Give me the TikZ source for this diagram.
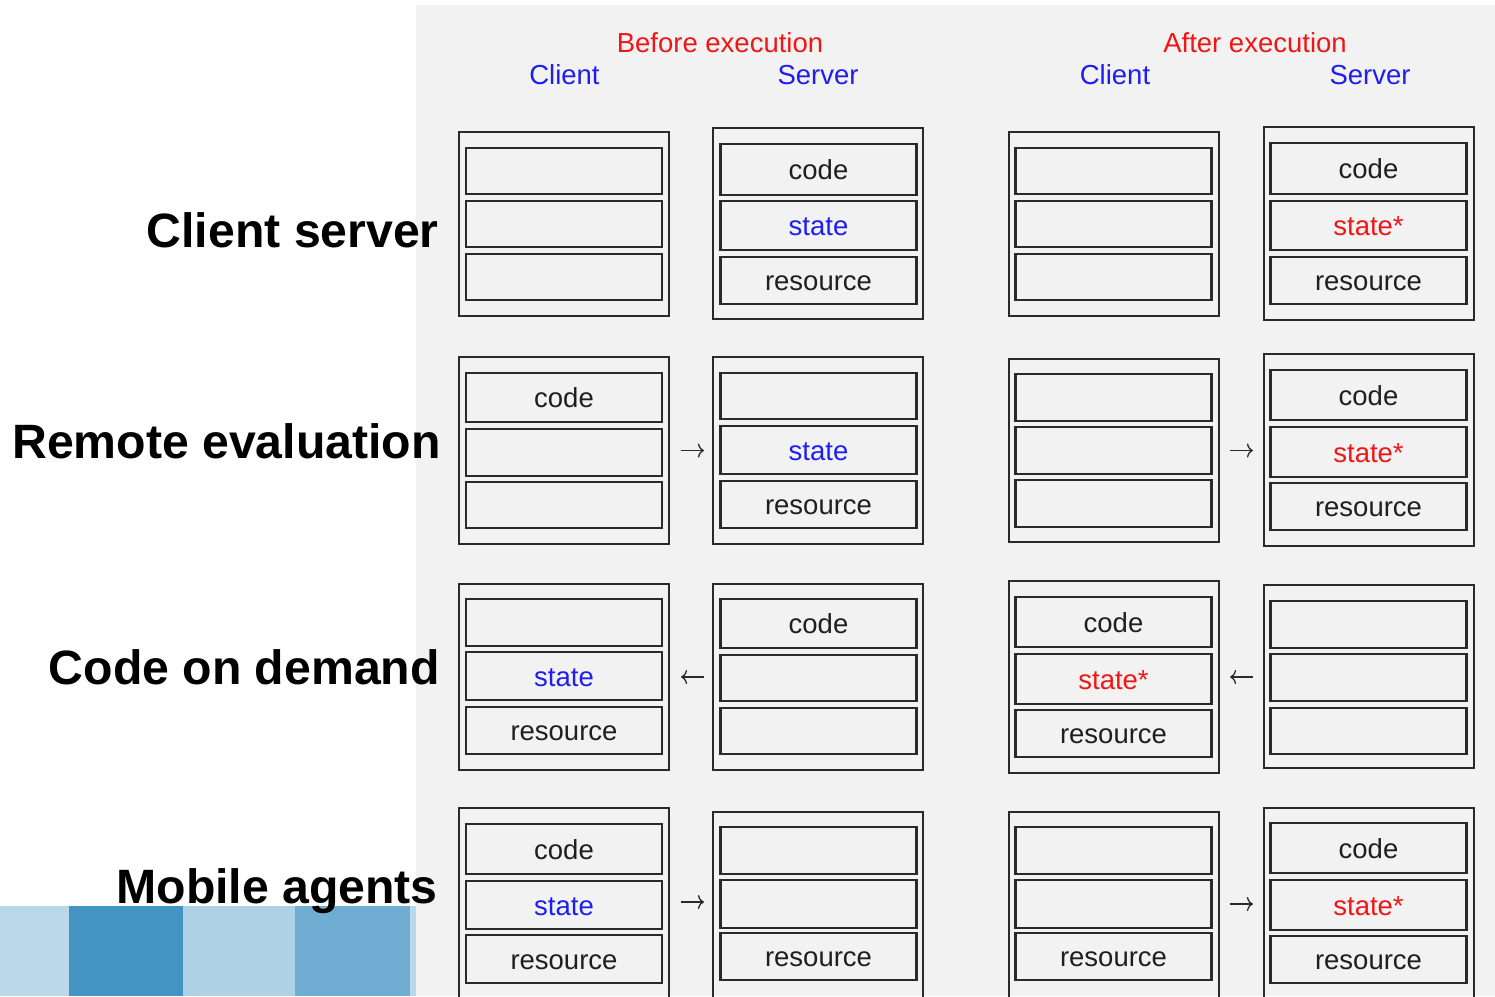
\documentclass[tikz,border=0pt]{standalone}
\usepackage{fontspec}
\setmainfont{Liberation Sans}
\usetikzlibrary{arrows.meta}
\definecolor{panel}{RGB}{242,242,242}
\definecolor{ink}{RGB}{42,42,42}
\definecolor{hred}{RGB}{240,22,22}
\definecolor{hblue}{RGB}{30,30,240}
\definecolor{tileA}{RGB}{186,216,234}
\definecolor{tileB}{RGB}{68,148,195}
\definecolor{tileC}{RGB}{173,209,229}
\definecolor{tileD}{RGB}{111,173,210}
\tikzset{
  frame/.style={draw=ink, line width=2.2pt, minimum width=210pt, inner sep=0pt},
  cell/.style={draw=ink, line width=2.8pt, minimum width=196pt, inner sep=0pt,
    text height=20pt, text depth=0pt, text=black!88,
    font=\fontsize{27.5}{30}\selectfont},
  fresh/.style={text=hblue},
  changed/.style={text=hred},
  hdr/.style={anchor=base, inner sep=0pt, font=\fontsize{27.5}{30}\selectfont},
  lbl/.style={anchor=base east, inner sep=0pt, font=\fontsize{48.2}{52}\selectfont\bfseries},
  arr/.style={draw=ink, line width=1.3pt, -{To[length=6pt,width=14pt]}},
}
\begin{document}
\begin{tikzpicture}[x=1pt,y=-1pt]
\useasboundingbox (0,0) rectangle (1495,996);
\clip (0,0) rectangle (1495,996);

% background panel and corner tiles
\fill[panel] (416,5) rectangle (1495,996);
\fill[tileA] (0,906) rectangle (69,996);
\fill[tileB] (69,906) rectangle (183,996);
\fill[tileC] (183,906) rectangle (295,996);
\fill[tileD] (295,906) rectangle (410,996);
\fill[tileA] (410,906) rectangle (416,996);

% column headings
\node[hdr, text=hred]  (hb) at (720,52) {Before execution};
\node[hdr, text=hblue] (hbc) at (564.5,84) {Client};
\node[hdr, text=hblue] (hbs) at (818,84) {Server};
\node[hdr, text=hred]  (ha) at (1255,52) {After execution};
\node[hdr, text=hblue] (hac) at (1115,84) {Client};
\node[hdr, text=hblue] (has) at (1370,84) {Server};

% row labels
\node[lbl] (l1) at (439,247) {Client server};
\node[lbl] (l2) at (441,458) {Remote evaluation};
\node[lbl] (l3) at (440,684) {Code on demand};
\node[lbl] (l4) at (438,903) {Mobile agents};

% ---- Client server
\node[frame, minimum height=184pt] (o11) at (564,224) {};
\node[cell, minimum height=46pt] (c111) at (564,171) {};
\node[cell, minimum height=46pt] (c112) at (564,224) {};
\node[cell, minimum height=46pt] (c113) at (564,277) {};
\node[frame, minimum height=191pt] (o12) at (818,223.5) {};
\node[cell, minimum height=51pt] (c121) at (818.5,169.5) {code};
\node[cell, fresh, minimum height=49pt] (c122) at (818.5,225.5) {state};
\node[cell, minimum height=47pt] (c123) at (818.5,280.5) {resource};
\node[frame, minimum height=184pt] (o13) at (1114,224) {};
\node[cell, minimum height=46pt] (c131) at (1113.5,171) {};
\node[cell, minimum height=46pt] (c132) at (1113.5,224) {};
\node[cell, minimum height=46pt] (c133) at (1113.5,277) {};
\node[frame, minimum height=193pt] (o14) at (1369,223.5) {};
\node[cell, minimum height=51pt] (c141) at (1368.5,168.5) {code};
\node[cell, changed, minimum height=49pt] (c142) at (1368.5,225.5) {state*};
\node[cell, minimum height=47pt] (c143) at (1368.5,280.5) {resource};

% ---- Remote evaluation
\node[frame, minimum height=187pt] (o21) at (564,450.5) {};
\node[cell, minimum height=49pt] (c211) at (564,397.5) {code};
\node[cell, minimum height=47pt] (c212) at (564,452.5) {};
\node[cell, minimum height=46pt] (c213) at (564,505) {};
\node[frame, minimum height=187pt] (o22) at (818,450.5) {};
\node[cell, minimum height=46pt] (c221) at (818.5,396) {};
\node[cell, fresh, minimum height=48pt] (c222) at (818.5,450) {state};
\node[cell, minimum height=47pt] (c223) at (818.5,504.5) {resource};
\node[frame, minimum height=183pt] (o23) at (1114,450.5) {};
\node[cell, minimum height=47pt] (c231) at (1113.5,397.5) {};
\node[cell, minimum height=47pt] (c232) at (1113.5,450.5) {};
\node[cell, minimum height=47pt] (c233) at (1113.5,503.5) {};
\node[frame, minimum height=192pt] (o24) at (1369,450) {};
\node[cell, minimum height=50pt] (c241) at (1368.5,395) {code};
\node[cell, changed, minimum height=50pt] (c242) at (1368.5,452) {state*};
\node[cell, minimum height=47pt] (c243) at (1368.5,506.5) {resource};
\draw[arr, shorten <=11pt, shorten >=8pt] (o21.east) -- (o22.west);
\draw[arr, shorten <=10pt, shorten >=10pt] (o23.east) -- (o23.east -| o24.west);

% ---- Code on demand
\node[frame, minimum height=186pt] (o31) at (564,677) {};
\node[cell, minimum height=47pt] (c311) at (564,622.5) {};
\node[cell, fresh, minimum height=48pt] (c312) at (564,676) {state};
\node[cell, minimum height=47pt] (c313) at (564,730.5) {resource};
\node[frame, minimum height=186pt] (o32) at (818,677) {};
\node[cell, minimum height=49pt] (c321) at (818.5,623.5) {code};
\node[cell, minimum height=46pt] (c322) at (818.5,678) {};
\node[cell, minimum height=46pt] (c323) at (818.5,731) {};
\node[frame, minimum height=192pt] (o33) at (1114,677) {};
\node[cell, minimum height=50pt] (c331) at (1113.5,622) {code};
\node[cell, changed, minimum height=50pt] (c332) at (1113.5,679) {state*};
\node[cell, minimum height=47pt] (c333) at (1113.5,733.5) {resource};
\node[frame, minimum height=183pt] (o34) at (1369,676.5) {};
\node[cell, minimum height=47pt] (c341) at (1368.5,624.5) {};
\node[cell, minimum height=47pt] (c342) at (1368.5,677.5) {};
\node[cell, minimum height=46pt] (c343) at (1368.5,731) {};
\draw[arr, shorten <=8pt, shorten >=11pt] (o32.west) -- (o31.east);
\draw[arr, shorten <=10pt, shorten >=10pt] (o33.east -| o34.west) -- (o33.east);

% ---- Mobile agents
\node[frame, minimum height=190pt] (o41) at (564,903) {};
\node[cell, minimum height=50pt] (c411) at (564,849) {code};
\node[cell, fresh, minimum height=48pt] (c412) at (564,905) {state};
\node[cell, minimum height=48pt] (c413) at (564,959) {resource};
\node[frame, minimum height=186pt] (o42) at (818,905) {};
\node[cell, minimum height=47pt] (c421) at (818.5,850.5) {};
\node[cell, minimum height=48pt] (c422) at (818.5,904) {};
\node[cell, minimum height=47pt] (c423) at (818.5,956.5) {resource};
\node[frame, minimum height=186pt] (o43) at (1114,905) {};
\node[cell, minimum height=47pt] (c431) at (1113.5,850.5) {};
\node[cell, minimum height=48pt] (c432) at (1113.5,904) {};
\node[cell, minimum height=47pt] (c433) at (1113.5,956.5) {resource};
\node[frame, minimum height=190pt] (o44) at (1369,903) {};
\node[cell, minimum height=50pt] (c441) at (1368.5,848) {code};
\node[cell, changed, minimum height=50pt] (c442) at (1368.5,905) {state*};
\node[cell, minimum height=47pt] (c443) at (1368.5,959.5) {resource};
\draw[arr, shorten <=11pt, shorten >=8pt] ([yshift=1pt]o41.east) -- ([yshift=1pt]o41.east -| o42.west);
\draw[arr, shorten <=10pt, shorten >=10pt] ([yshift=1pt]o43.east) -- ([yshift=1pt]o43.east -| o44.west);
\end{tikzpicture}
\end{document}
